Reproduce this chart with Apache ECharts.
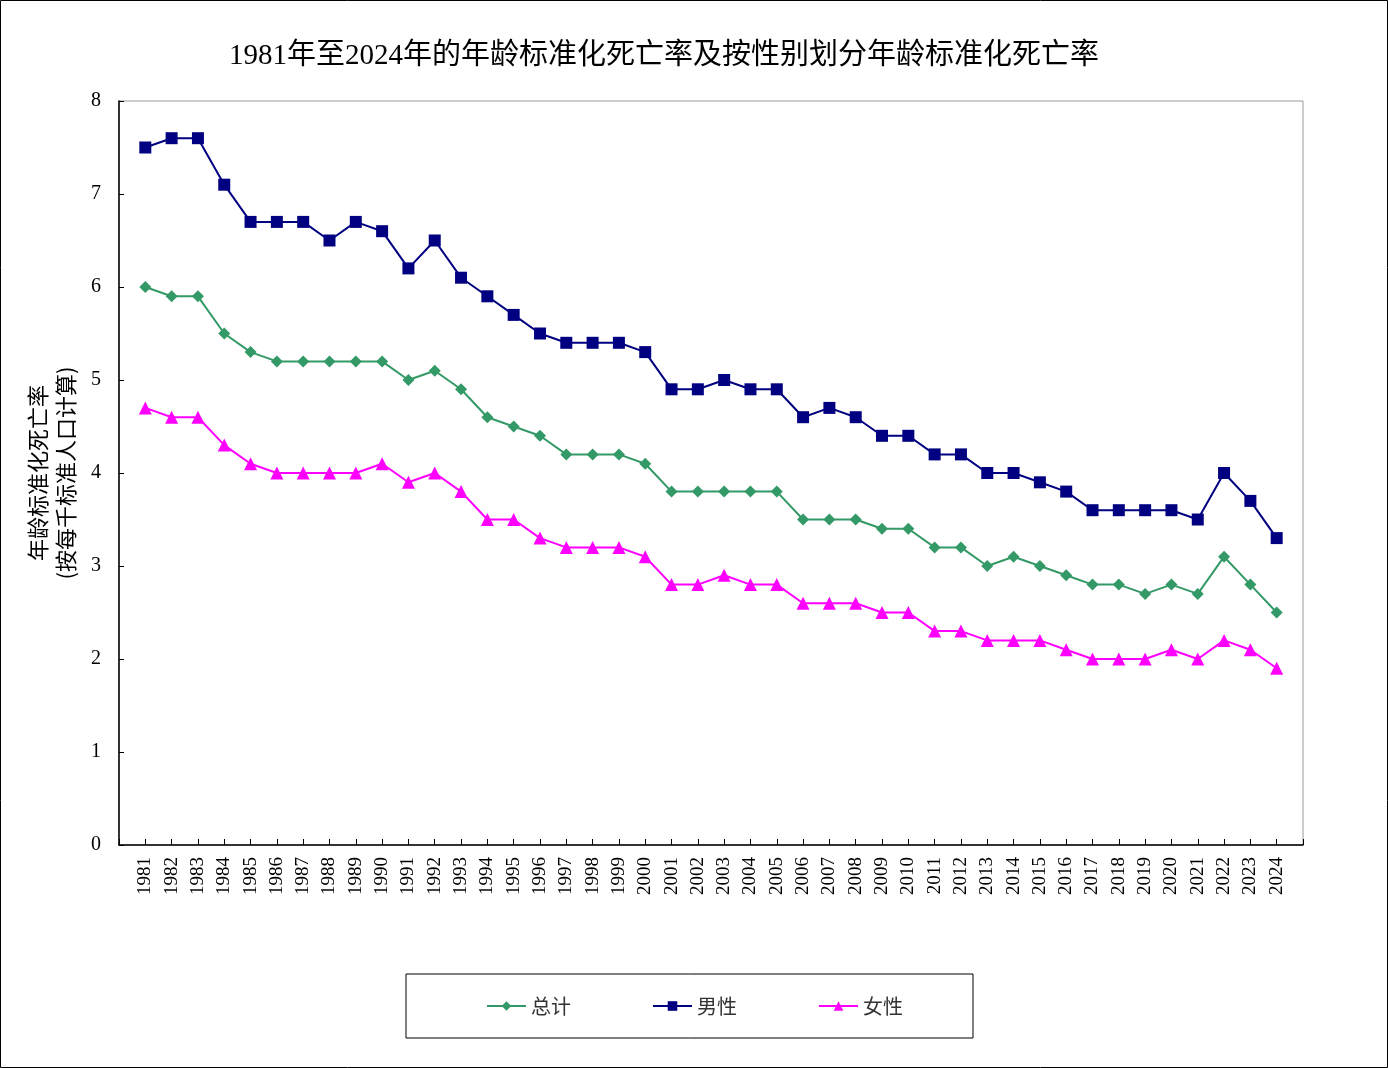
<!DOCTYPE html>
<html>
<head>
<meta charset="utf-8">
<script src="https://cdn.jsdelivr.net/npm/echarts@6/dist/echarts.min.js"></script>
<style>
  html, body { margin: 0; padding: 0; background: #fff; }
  #main { width: 1388px; height: 1068px; }
</style>
</head>
<body>
<div id="main"></div>
<script>
// 年份
var years = [1981, 1982, 1983, 1984, 1985, 1986, 1987, 1988, 1989, 1990,
  1991, 1992, 1993, 1994, 1995, 1996, 1997, 1998, 1999, 2000,
  2001, 2002, 2003, 2004, 2005, 2006, 2007, 2008, 2009, 2010,
  2011, 2012, 2013, 2014, 2015, 2016, 2017, 2018, 2019, 2020,
  2021, 2022, 2023, 2024];
var total = [6.0, 5.9, 5.9, 5.5, 5.3, 5.2, 5.2, 5.2, 5.2, 5.2,
  5.0, 5.1, 4.9, 4.6, 4.5, 4.4, 4.2, 4.2, 4.2, 4.1,
  3.8, 3.8, 3.8, 3.8, 3.8, 3.5, 3.5, 3.5, 3.4, 3.4,
  3.2, 3.2, 3.0, 3.1, 3.0, 2.9, 2.8, 2.8, 2.7, 2.8,
  2.7, 3.1, 2.8, 2.5];
var male = [7.5, 7.6, 7.6, 7.1, 6.7, 6.7, 6.7, 6.5, 6.7, 6.6,
  6.2, 6.5, 6.1, 5.9, 5.7, 5.5, 5.4, 5.4, 5.4, 5.3,
  4.9, 4.9, 5.0, 4.9, 4.9, 4.6, 4.7, 4.6, 4.4, 4.4,
  4.2, 4.2, 4.0, 4.0, 3.9, 3.8, 3.6, 3.6, 3.6, 3.6,
  3.5, 4.0, 3.7, 3.3];
var female = [4.7, 4.6, 4.6, 4.3, 4.1, 4.0, 4.0, 4.0, 4.0, 4.1,
  3.9, 4.0, 3.8, 3.5, 3.5, 3.3, 3.2, 3.2, 3.2, 3.1,
  2.8, 2.8, 2.9, 2.8, 2.8, 2.6, 2.6, 2.6, 2.5, 2.5,
  2.3, 2.3, 2.2, 2.2, 2.2, 2.1, 2.0, 2.0, 2.0, 2.1,
  2.0, 2.2, 2.1, 1.9];

var serif = "'Liberation Serif', 'Noto Sans CJK SC', serif";
var cjk = "'Noto Sans CJK SC', sans-serif";

function pairs(arr) {
  return arr.map(function (v, i) { return [years[i], v]; });
}

var chart = echarts.init(document.getElementById('main'));
chart.setOption({
  backgroundColor: '#fff',
  animation: false,
  title: {
    text: '1981年至2024年的年龄标准化死亡率及按性别划分年龄标准化死亡率',
    left: 659,
    textAlign: 'center',
    top: 37,
    textStyle: { fontFamily: serif, fontSize: 29, fontWeight: 'normal', color: '#000' }
  },
  graphic: [{
    type: 'rect',
    shape: { x: 0.5, y: 0.5, width: 1387, height: 1067 },
    style: { fill: 'none', stroke: '#000', lineWidth: 1 },
    silent: true
  }],
  legend: {
    left: 406,
    top: 974,
    padding: [22, 70, 22, 80],
    borderColor: '#000',
    borderWidth: 1,
    itemWidth: 39,
    itemHeight: 12,
    itemGap: 81,
    textStyle: { fontFamily: cjk, fontSize: 20, color: '#333' },
    data: ['总计', '男性', '女性']
  },
  grid: {
    left: 119, top: 101, width: 1184, height: 744,
    show: true, borderColor: '#999', borderWidth: 1,
    containLabel: false, outerBoundsMode: 'none'
  },
  xAxis: {
    type: 'value',
    min: 1980,
    max: 2025,
    interval: 1,
    axisLine: { lineStyle: { color: '#000', width: 1.5 } },
    axisTick: { inside: true, length: 6, lineStyle: { color: '#000' } },
    splitLine: { show: false },
    axisLabel: {
      rotate: 90,
      margin: 12,
      fontFamily: serif,
      fontSize: 19,
      color: '#000',
      formatter: function (v) { return (v < 1981 || v > 2024) ? '' : String(v); }
    }
  },
  yAxis: {
    type: 'value',
    min: 0,
    max: 8,
    interval: 1,
    name: '年龄标准化死亡率\n(按每千标准人口计算)',
    nameLocation: 'middle',
    nameGap: 37,
    nameRotate: 90,
    nameTextStyle: { fontFamily: cjk, fontSize: 22, color: '#000', lineHeight: 28 },
    axisLine: { show: true, lineStyle: { color: '#000', width: 1.5 } },
    axisTick: { show: true, inside: true, length: 5, lineStyle: { color: '#000' } },
    splitLine: { show: false },
    axisLabel: { margin: 18, fontFamily: serif, fontSize: 20, color: '#000' }
  },
  series: [{
    name: '总计',
    type: 'line',
    data: pairs(total),
    symbol: 'diamond',
    symbolSize: 12,
    color: '#339966',
    lineStyle: { width: 2 }
  }, {
    name: '男性',
    type: 'line',
    data: pairs(male),
    symbol: 'rect',
    symbolSize: 12,
    color: '#000080',
    lineStyle: { width: 2 }
  }, {
    name: '女性',
    type: 'line',
    data: pairs(female),
    symbol: 'triangle',
    symbolSize: 13,
    color: '#ff00ff',
    lineStyle: { width: 2 }
  }]
});
</script>
</body>
</html>
